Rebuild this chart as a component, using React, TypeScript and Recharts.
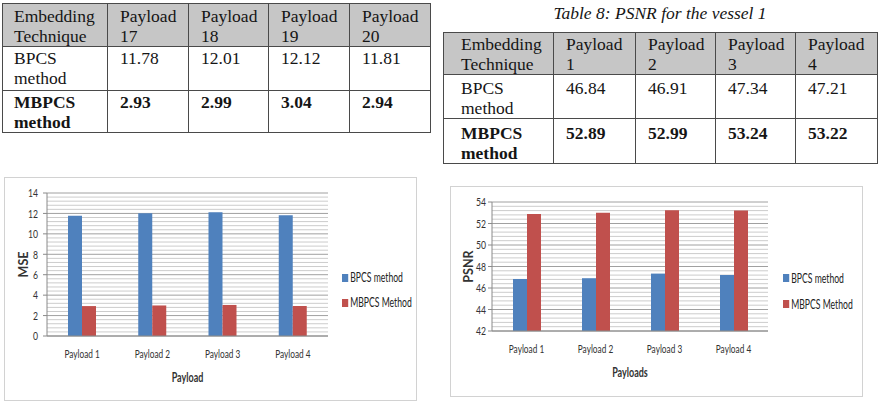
import React from 'react';
import { BarChart, Bar, XAxis, YAxis, CartesianGrid, Legend } from 'recharts';

const payloads = ['Payload 1', 'Payload 2', 'Payload 3', 'Payload 4'];
const mseBpcs = [11.78, 12.01, 12.12, 11.81];
const mseMbpcs = [2.93, 2.99, 3.04, 2.94];
const psnrBpcs = [46.84, 46.91, 47.34, 47.21];
const psnrMbpcs = [52.89, 52.99, 53.24, 53.22];
const mseTableNums = ['17', '18', '19', '20'];
const psnrTableNums = ['1', '2', '3', '4'];
const mseTicks = [0, 2, 4, 6, 8, 10, 12, 14];
const psnrTicks = [42, 44, 46, 48, 50, 52, 54];
const seriesNames = ['BPCS method', 'MBPCS Method'];

const BLUE = '#4F81BD';
const RED = '#C0504D';
const CHART_FONT = "Lato, 'Liberation Sans', sans-serif";
const SQUEEZE = 0.72; // the chart image is squeezed sideways

// excel style minor lines: 5 per major step
function minorLines(ticks: number[]) {
  const out: number[] = [];
  for (let i = 0; i < ticks.length - 1; i++) {
    const step = (ticks[i + 1] - ticks[i]) / 5;
    for (let k = 1; k < 5; k++) out.push(ticks[i] + step * k);
  }
  return out;
}

type TableProps = {
  nums: string[];
  bpcs: number[];
  mbpcs: number[];
  widths: number[];
  rowHeights: number[];
  left: number;
  top: number;
  firstPad: number;
  padTops: number[];
};

function DataTable({ nums, bpcs, mbpcs, widths, rowHeights, left, top, firstPad, padTops }: TableProps) {
  const cell = (col: number, row: number): React.CSSProperties => ({
    border: '1.5px solid #4a4a4a',
    verticalAlign: 'top',
    padding: `${padTops[row]}px 2px 0 ${col === 0 ? firstPad : 12}px`,
    lineHeight: '20px',
    height: rowHeights[row],
    boxSizing: 'border-box',
  });
  return (
    <table
      style={{
        position: 'absolute', left, top, borderCollapse: 'collapse', tableLayout: 'fixed',
        width: widths.reduce((a, b) => a + b, 0), fontFamily: "'Liberation Serif', 'Times New Roman', serif",
        fontSize: 17.5, color: '#151515',
      }}
    >
      <colgroup>{widths.map((w, i) => <col key={i} style={{ width: w }} />)}</colgroup>
      <tbody>
        <tr style={{ background: '#c6c6c6' }}>
          <td style={cell(0, 0)}>Embedding<br />Technique</td>
          {nums.map((n, i) => <td key={i} style={cell(i + 1, 0)}>Payload<br />{n}</td>)}
        </tr>
        <tr>
          <td style={cell(0, 1)}>BPCS<br />method</td>
          {bpcs.map((v, i) => <td key={i} style={cell(i + 1, 1)}>{v.toFixed(2)}</td>)}
        </tr>
        <tr style={{ fontWeight: 'bold' }}>
          <td style={cell(0, 2)}>MBPCS<br />method</td>
          {mbpcs.map((v, i) => <td key={i} style={cell(i + 1, 2)}>{v.toFixed(2)}</td>)}
        </tr>
      </tbody>
    </table>
  );
}

function LegendBox({ rowH }: { rowH: number }) {
  return (
    <div style={{ fontFamily: CHART_FONT, fontSize: 12.5, color: '#222', whiteSpace: 'nowrap', transform: 'scaleX(0.69)', transformOrigin: 'left center' }}>
      {seriesNames.map((n, i) => (
        <div key={n} style={{ height: rowH, display: 'flex', alignItems: 'center' }}>
          <span style={{ width: 9, height: 8, background: i === 0 ? BLUE : RED, marginRight: 3, display: 'inline-block' }} />
          {n}
        </div>
      ))}
    </div>
  );
}

function XTick({ x, y, payload }: any) {
  return (
    <g transform={`translate(${x},${y}) scale(${SQUEEZE},1)`}>
      <text textAnchor="middle" dy="0.71em" fill="#333" fontSize={11.5} fontFamily={CHART_FONT}>{payload.value}</text>
    </g>
  );
}

function YTick({ x, y, payload }: any) {
  return (
    <g transform={`translate(${x},${y}) scale(${SQUEEZE},1)`}>
      <text textAnchor="end" dy="0.36em" fill="#333" fontSize={12} fontFamily={CHART_FONT}>{payload.value}</text>
    </g>
  );
}

type ChartProps = {
  bpcs: number[];
  mbpcs: number[];
  ticks: number[];
  yTitle: string;
  xTitle: string;
  left: number;
  top: number;
  width: number;
  height: number;
  margin: { top: number; right: number; left: number; bottom: number };
  yTickMargin: number;
  yTitleX: number;
  xTitleY: number;
  legendPos: { left: number; top: number; rowH: number };
};

function PayloadChart(p: ChartProps) {
  const rows = payloads.map((name, i) => ({ name, bpcs: p.bpcs[i], mbpcs: p.mbpcs[i] }));
  return (
    <div style={{ position: 'absolute', left: p.left, top: p.top, width: p.width, height: p.height, border: '1px solid #d2d2d2', boxSizing: 'border-box', background: '#fff' }}>
      <BarChart width={p.width - 2} height={p.height - 2} data={rows} margin={p.margin} barGap={0} barSize={14}>
        <CartesianGrid vertical={false} horizontalValues={minorLines(p.ticks)} stroke="#cccccc" />
        <CartesianGrid vertical={false} horizontalValues={p.ticks} stroke="#a0a0a0" />
        <XAxis
          dataKey="name" height={60} tickLine={false} tickSize={0} tickMargin={14} tick={<XTick />}
          axisLine={{ stroke: '#8a8a8a' }}
          label={{
            content: ({ viewBox }: any) => (
              <g transform={`translate(${viewBox.x + viewBox.width / 2},${p.xTitleY}) scale(${SQUEEZE},1)`}>
                <text textAnchor="middle" dy="0.36em" fill="#333" fontSize={12.5} fontWeight="bold" fontFamily={CHART_FONT}>{p.xTitle}</text>
              </g>
            ),
          }}
        />
        <YAxis
          width={38} domain={[p.ticks[0], p.ticks[p.ticks.length - 1]]} ticks={p.ticks} interval={0}
          tickSize={4} tickMargin={p.yTickMargin} tick={<YTick />} axisLine={{ stroke: '#8a8a8a' }} tickLine={{ stroke: '#8a8a8a' }}
          label={{
            content: ({ viewBox }: any) => (
              <text
                transform={`translate(${p.yTitleX},${viewBox.y + viewBox.height / 2}) rotate(-90)`}
                textAnchor="middle" dy="0.36em" fill="#333" fontSize={12.5} fontWeight="bold" fontFamily={CHART_FONT}
              >
                {p.yTitle}
              </text>
            ),
          }}
        />
        <Legend
          layout="vertical" align="center" verticalAlign="middle"
          wrapperStyle={{ left: p.legendPos.left, top: p.legendPos.top, width: 'auto' }}
          content={() => <LegendBox rowH={p.legendPos.rowH} />}
        />
        <Bar dataKey="bpcs" name={seriesNames[0]} fill={BLUE} isAnimationActive={false} />
        <Bar dataKey="mbpcs" name={seriesNames[1]} fill={RED} isAnimationActive={false} />
      </BarChart>
    </div>
  );
}

export default function App() {
  return (
    <div style={{ position: 'absolute', left: 0, top: 0, width: 880, height: 412, background: '#fff', overflow: 'hidden' }}>
      <DataTable
        nums={mseTableNums} bpcs={mseBpcs} mbpcs={mseMbpcs}
        widths={[105, 81, 80, 81, 81]} rowHeights={[43, 44, 41]} left={2} top={3}
        firstPad={11} padTops={[2, 1, 1]}
      />
      <div style={{ position: 'absolute', left: 443, width: 434, top: 3, textAlign: 'center', fontFamily: "'Liberation Serif', 'Times New Roman', serif", fontStyle: 'italic', fontSize: 17.5, color: '#151515' }}>
        Table 8: PSNR for the vessel 1
      </div>
      <DataTable
        nums={psnrTableNums} bpcs={psnrBpcs} mbpcs={psnrMbpcs}
        widths={[110, 82, 80, 80, 82]} rowHeights={[42, 42, 41]} left={443} top={32}
        firstPad={17} padTops={[1, 3, 4]}
      />
      <PayloadChart
        bpcs={mseBpcs} mbpcs={mseMbpcs} ticks={mseTicks} yTitle="MSE" xTitle="Payload"
        left={4} top={177} width={413} height={224}
        margin={{ top: 15, right: 88, left: 4, bottom: 4 }} yTickMargin={5} yTitleX={18} xTitleY={199}
        legendPos={{ left: 337, top: 87, rowH: 25 }}
      />
      <PayloadChart
        bpcs={psnrBpcs} mbpcs={psnrMbpcs} ticks={psnrTicks} yTitle="PSNR" xTitle="Payloads"
        left={450} top={186} width={413} height={211}
        margin={{ top: 15, right: 94, left: 3, bottom: 5 }} yTickMargin={2} yTitleX={17.5} xTitleY={185}
        legendPos={{ left: 332, top: 78, rowH: 26 }}
      />
    </div>
  );
}
